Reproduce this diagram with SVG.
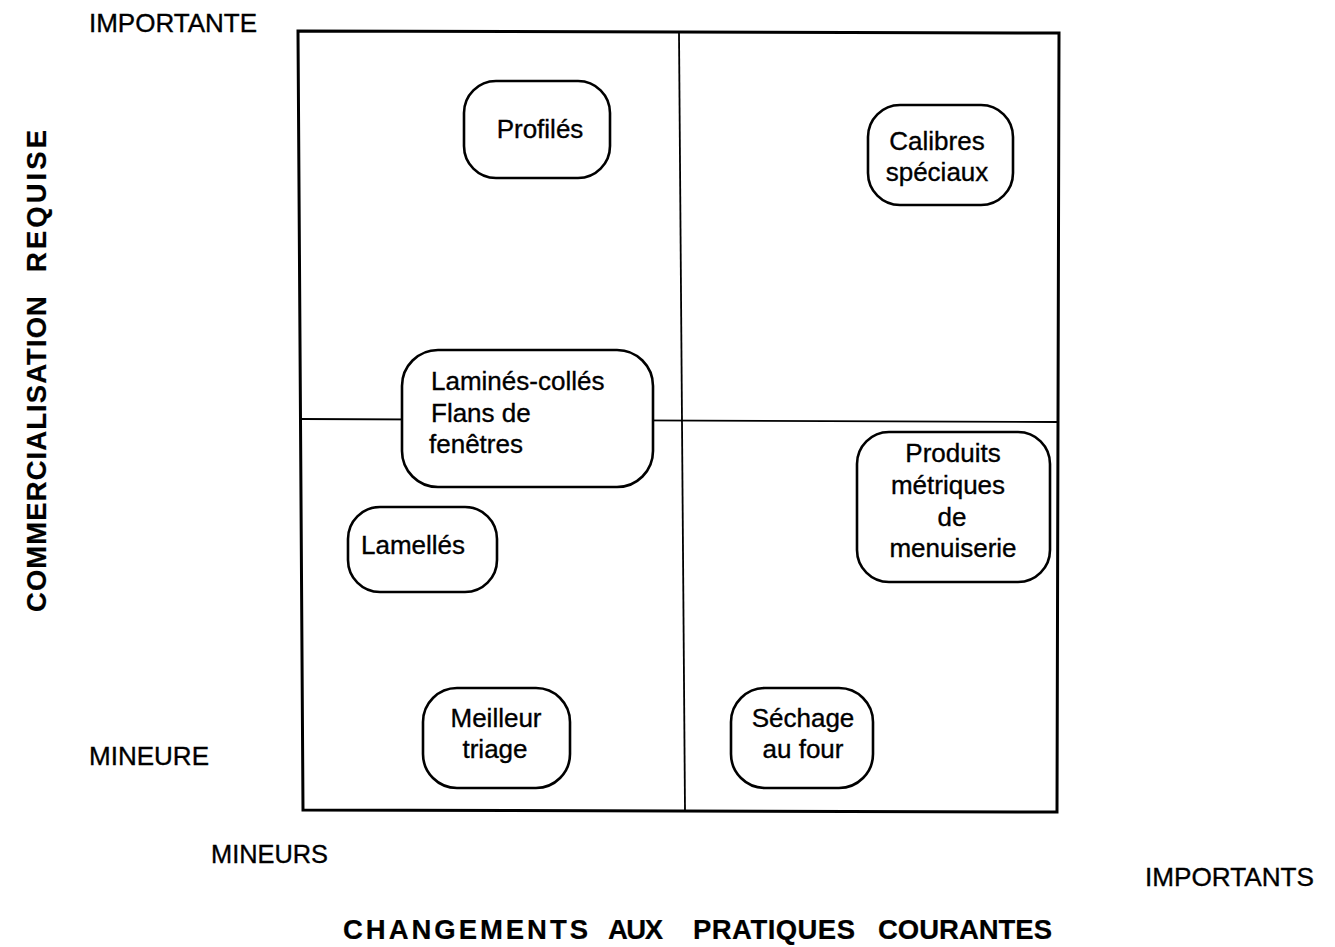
<svg xmlns="http://www.w3.org/2000/svg" width="1335" height="947" viewBox="0 0 1335 947">
<style>
text{font-family:"Liberation Sans",Arial,Helvetica,sans-serif;fill:#000;stroke:#000;stroke-width:0.35}
.lbl{font-size:26px}
.nt{font-size:26px}
.ax{font-size:27.5px;font-weight:bold;stroke-width:0.2}
.node rect{fill:#fff;stroke:#000;stroke-width:2.6}
.frame{fill:none;stroke:#000;stroke-width:3}
.div{fill:none;stroke:#000;stroke-width:1.8}
</style>
<rect width="1335" height="947" fill="#fff"/>
<g id="connectors">
<polygon class="frame" points="298,31 1059,33 1057,812 303,810"/>
<line class="div" x1="679" y1="33" x2="685" y2="811"/>
<line class="div" x1="301" y1="419" x2="1058" y2="422"/>
</g>
<g id="labels">
<text class="lbl" x="89" y="32" textLength="168" lengthAdjust="spacingAndGlyphs">IMPORTANTE</text>
<text class="lbl" x="89" y="765" textLength="120" lengthAdjust="spacingAndGlyphs">MINEURE</text>
<text class="lbl" x="211" y="863" textLength="117" lengthAdjust="spacingAndGlyphs">MINEURS</text>
<text class="lbl" x="1145" y="886" textLength="169" lengthAdjust="spacingAndGlyphs">IMPORTANTS</text>
<text class="ax" x="343" y="939" textLength="245" lengthAdjust="spacing">CHANGEMENTS</text>
<text class="ax" x="608" y="939" textLength="55" lengthAdjust="spacing">AUX</text>
<text class="ax" x="693" y="939" textLength="162" lengthAdjust="spacing">PRATIQUES</text>
<text class="ax" x="878" y="939" textLength="174" lengthAdjust="spacing">COURANTES</text>
<text class="ax" transform="translate(46,612) rotate(-90)" textLength="316" lengthAdjust="spacing">COMMERCIALISATION</text>
<text class="ax" transform="translate(46,272) rotate(-90)" textLength="142" lengthAdjust="spacing">REQUISE</text>
</g>
<g id="profiles" class="node">
<rect x="464" y="81" width="146" height="97" rx="32"/>
<text class="nt" x="540" y="138" text-anchor="middle">Profilés</text>
</g>
<g id="calibres" class="node">
<rect x="868" y="105" width="145" height="100" rx="32"/>
<text class="nt" x="937" y="150" text-anchor="middle">Calibres</text>
<text class="nt" x="937" y="181" text-anchor="middle">spéciaux</text>
</g>
<g id="lamines" class="node">
<rect x="402" y="350" width="251" height="137" rx="36"/>
<text class="nt" x="431" y="390">Laminés-collés</text>
<text class="nt" x="431" y="422"> Flans de</text>
<text class="nt" x="429" y="453">fenêtres</text>
</g>
<g id="lamelles" class="node">
<rect x="348" y="507" width="149" height="85" rx="32"/>
<text class="nt" x="361" y="554">Lamellés</text>
</g>
<g id="produits" class="node">
<rect x="857" y="432" width="193" height="150" rx="32"/>
<text class="nt" x="953" y="462" text-anchor="middle">Produits</text>
<text class="nt" x="948" y="494" text-anchor="middle">métriques</text>
<text class="nt" x="952" y="526" text-anchor="middle">de</text>
<text class="nt" x="953" y="557" text-anchor="middle">menuiserie</text>
</g>
<g id="meilleur" class="node">
<rect x="423" y="688" width="147" height="100" rx="34"/>
<text class="nt" x="496" y="727" text-anchor="middle">Meilleur</text>
<text class="nt" x="495" y="758" text-anchor="middle">triage</text>
</g>
<g id="sechage" class="node">
<rect x="731" y="688" width="142" height="100" rx="34"/>
<text class="nt" x="803" y="727" text-anchor="middle">Séchage</text>
<text class="nt" x="803" y="758" text-anchor="middle">au four</text>
</g>
</svg>
